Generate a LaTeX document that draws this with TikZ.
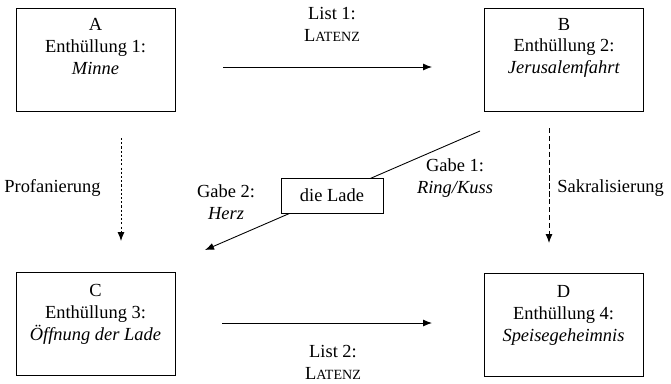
\documentclass[tikz,border=0pt]{standalone}
\usepackage{fontspec}
\setmainfont{Liberation Serif}
\usetikzlibrary{arrows.meta, positioning}

\newcommand{\latenz}{L{\footnotesize ATENZ}}

\begin{document}
\begin{tikzpicture}[
    x=0.02cm, y=-0.02cm,
    >={Latex[length=1.8mm, width=1.4mm]}, % filled arrow heads
    every node/.style={font=\fontsize{10.5}{12.5}\selectfont},
    box/.style={draw, line width=0.5pt, minimum width=3.18cm, minimum height=2.06cm, inner sep=0pt}, % the four stages
    boxtext/.style={align=center, inner sep=0pt},
    ladebox/.style={draw, line width=0.5pt, fill=white, minimum width=2.04cm, minimum height=0.7cm},
    link/.style={->, line width=0.5pt}, % plain arrows
    profan/.style={link, dash pattern=on 1.2pt off 1.2pt},
    sakral/.style={link, dash pattern=on 3pt off 1.5pt},
    arrowlabel/.style={align=center, inner sep=0pt}
]

    \useasboundingbox (0,0) rectangle (671,383);

    % === Boxes ===
    \node[box] (A) at (95.5,59.5) {};
    \node[box] (B) at (564,59.5) {};
    \node[box] (C) at (95.5,324) {};
    \node[box] (D) at (563.5,325) {};

    \node[boxtext, below=0.2cm of A.north] (A text) {A\\Enthüllung 1:\\\textit{Minne}};
    \node[boxtext, below=0.2cm of B.north] (B text) {B\\Enthüllung 2:\\\textit{Jerusalemfahrt}};
    \node[boxtext, below=0.24cm of C.north] (C text) {C\\Enthüllung 3:\\\textit{Öffnung der Lade}};
    \node[boxtext, below=0.24cm of D.north] (D text) {D\\Enthüllung 4:\\\textit{Speisegeheimnis}};

    % === Arrow ends ===
    \coordinate (list1 start) at (223,67);
    \coordinate (list1 end) at (432,67);
    \coordinate (list2 start) at (222,323);
    \coordinate (list2 end) at (432,323);
    \coordinate (profan start) at (121,138);
    \coordinate (profan end) at (121,241);
    \coordinate (sakral start) at (549,128);
    \coordinate (sakral end) at (549,243);
    \coordinate (gabe start) at (480,131);
    \coordinate (gabe end) at (205,250);

    % === Arrows ===
    \draw[link] (list1 start) -- (list1 end);
    \draw[link] (list2 start) -- (list2 end);
    \draw[profan] (profan start) -- (profan end);
    \draw[sakral] (sakral start) -- (sakral end);
    \draw[link] (gabe start) -- (gabe end);

    % die Lade sits on top of the gift line
    \node[ladebox] (lade) at (332,195.5) {die Lade};

    % === Labels ===
    \node[arrowlabel] (list1) at (332,24) {List 1:\\\latenz};
    \node[arrowlabel] (list2) at (333,362) {List 2:\\\latenz};
    \node[arrowlabel, anchor=west] (profanierung) at (4,188) {Profanierung};
    \node[arrowlabel, anchor=west] (sakralisierung) at (557,188) {Sakralisierung};
    \node[arrowlabel] (gabe1) at (455,178) {Gabe 1:\\\textit{Ring/Kuss}};
    \node[arrowlabel] (gabe2) at (226,202) {Gabe 2:\\\textit{Herz}};

\end{tikzpicture}
\end{document}
